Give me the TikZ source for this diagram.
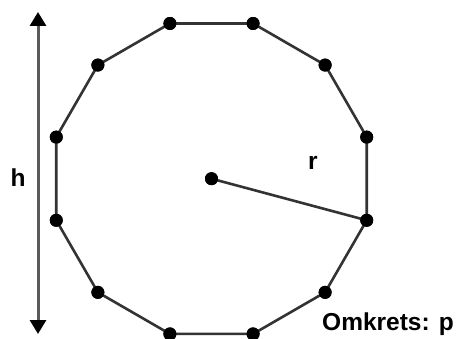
\documentclass[tikz,border=0pt]{standalone}
\usepackage{fontspec}
\setmainfont{Liberation Sans}
\usetikzlibrary{arrows.meta, calc}
\definecolor{kant}{RGB}{51,51,51}
\definecolor{pil}{RGB}{90,90,90}

\begin{document}
\begin{tikzpicture}[x=1pt, y=1pt,
    punkt/.style={circle, fill=black, inner sep=0pt, minimum size=13pt},
    etikett/.style={font=\fontsize{24.5}{28}\selectfont\bfseries, inner sep=0pt}]
  \useasboundingbox (0,0) rectangle (456,338);
  % sentrum og hjorner
  \node[punkt] (M) at (211.5,159.3) {};
  \foreach \i in {1,...,12}
    \node[punkt] (P\i) at ($(M.center)+({15+30*(\i-1)}:160.7)$) {};

  \draw[kant, line width=2.6pt] (P1.center)
    \foreach \i in {2,...,12} { -- (P\i.center) } -- cycle;
  \draw[kant, line width=2.6pt] (M.center) -- (P12.center);
  % punktene over linjene
  \foreach \i in {1,...,12}
    \fill (P\i) circle (6.5pt);
  \fill (M) circle (6.5pt);

  % hoyde
  \coordinate (htop) at (38,326);
  \coordinate (hbot) at (38,4);
  \draw[pil, line width=3pt,
        {Triangle[width=16pt,length=14pt,color=black]}-{Triangle[width=16pt,length=14pt,color=black]}]
        (htop) -- (hbot);

  \node[etikett] (h) at (18,160) {h};
  \node[etikett] (r) at (313,175) {r};
  \node[etikett, anchor=base east] (omkrets) at (454,7) {Omkrets: p};
\end{tikzpicture}
\end{document}
